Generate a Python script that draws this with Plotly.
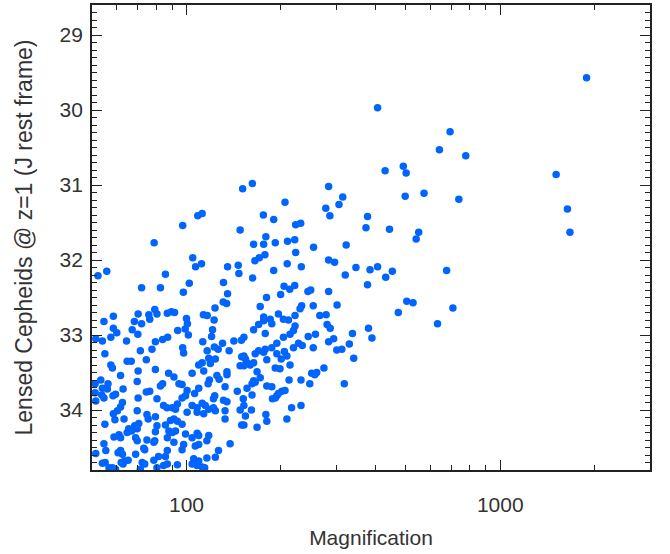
import numpy as np
import plotly.graph_objects as go

# log10(magnification) and J-band apparent magnitude (z=1 rest frame)
log10_magnification = [
    2.020, 2.029, 2.048, 1.718, 1.746, 1.933, 2.009, 2.131, 2.165, 2.167, 1.857, 1.917, 1.990, 2.118, 2.131, 2.117,
    2.128, 1.899, 1.906, 1.880, 1.883, 1.846, 1.939, 1.952, 1.962, 2.054, 2.066, 2.091, 2.088, 1.767, 1.737, 1.834,
    1.857, 2.000, 2.003, 1.996, 2.006, 1.767, 1.778, 1.827, 1.845, 1.972, 1.759, 1.711, 1.732, 1.809, 1.901, 1.924,
    1.940, 2.083, 2.080, 2.052, 2.115, 2.089, 2.101, 2.151, 2.175, 1.988, 1.991, 1.853, 1.890, 2.066, 2.136, 1.740,
    # faint left cluster
    1.759, 1.764, 1.811, 1.824, 1.872, 1.846, 1.901, 1.943, 1.790, 1.727, 1.750, 1.843, 1.709, 1.732, 1.748, 1.798,
    1.917, 1.924, 1.709, 1.730, 1.774, 1.766, 1.872, 1.883, 1.711, 1.737, 1.846, 1.906, 1.927, 1.938, 1.796, 1.790,
    1.780, 1.767, 1.772, 1.843, 1.874, 1.878, 1.901, 1.801, 1.740, 1.848, 1.835, 1.843, 1.825, 1.811, 1.816, 1.906,
    1.901, 1.933, 1.769, 1.785, 1.790, 1.838, 1.843, 1.874, 1.896, 1.899, 1.737, 1.743, 1.711, 1.790, 1.796, 1.782,
    1.838, 1.864, 1.867, 1.911, 1.896, 1.933, 1.803, 1.814, 1.792, 1.798, 1.741, 1.732, 1.859, 1.867, 1.753, 1.764,
    1.774, 1.853, 1.906, 1.927,
    # around 100
    2.176, 2.039, 2.050, 2.071, 2.076, 2.092, 2.171, 1.960, 2.018, 2.055, 2.097, 2.104, 2.129, 2.129, 2.073, 2.069,
    1.976, 1.986, 2.039, 2.123, 2.002, 1.997, 1.986, 2.026, 2.090, 2.086, 2.162, 2.118, 2.129, 2.181, 1.971, 1.965,
    1.955, 2.018, 2.034, 2.050, 2.060, 2.071, 2.086, 2.092, 2.055, 2.034, 2.002, 2.123, 2.123, 2.171, 2.176, 1.949,
    1.960, 1.971, 1.986, 1.944, 1.955, 1.965, 1.997, 2.018, 2.034, 2.039, 2.071, 2.065, 1.939, 1.960, 1.991, 2.028,
    2.039, 2.139, 1.939, 1.986, 2.102, 2.092, 2.065, 2.023, 2.039, 2.018, 2.034, 2.050, 1.971, 1.939, 2.058,
    # 150-270
    2.235, 2.367, 2.362, 2.404, 2.425, 2.346, 2.293, 2.309, 2.325, 2.246, 2.246, 2.267, 2.272, 2.230, 2.214, 2.346,
    2.341, 2.330, 2.251, 2.183, 2.309, 2.288, 2.388, 2.411, 2.357, 2.369, 2.341, 2.404, 2.272, 2.251, 2.246, 2.230,
    2.219, 2.288, 2.312, 2.320, 2.302, 2.183, 2.188, 2.193, 2.183, 2.203, 2.214, 2.256, 2.330, 2.283, 2.298, 2.225,
    2.235, 2.399, 2.409, 2.415, 2.214, 2.219, 2.209, 2.327, 2.365, 2.393, 2.193, 2.256, 2.272, 2.314, 2.304, 2.293,
    2.288, 2.283, 2.274, 2.209, 2.335, 2.365, 2.183, 2.207, 2.188, 2.253, 2.320, 2.256, 2.183, 2.225,
    2.218, 2.232, 2.250, 2.348, 2.321, 2.366, 2.278, 2.211, 2.311, 2.329, 2.345, 2.300, 2.387, 2.396, 2.255,
    # 270-550
    2.453, 2.472, 2.506, 2.540, 2.585, 2.609, 2.635, 2.656, 2.577, 2.453, 2.480, 2.445, 2.702, 2.722, 2.675, 2.448,
    2.458, 2.529, 2.580, 2.591, 2.453, 2.469, 2.479, 2.495, 2.519, 2.533, 2.438, 2.503,
    # bright / high magnification
    3.275, 2.840, 2.806, 2.890, 2.691, 2.700, 3.178, 2.697, 2.757, 2.868, 3.214, 3.222, 2.740, 2.732, 2.829, 2.849,
    2.800,
    2.609, 2.633, 2.210, 2.179, 2.453, 2.498, 2.486, 2.444, 2.457, 2.314, 2.245, 2.278, 2.348, 2.364, 2.577, 2.572,
    2.647, 2.171, 2.253, 2.214, 2.246, 2.283, 2.322, 2.345, 2.405, 2.509,
    2.050, 2.036, 1.988, 1.897,
]

J_magnitude = [
    31.97, 32.09, 32.05, 32.21, 32.15, 32.19, 32.31, 32.09, 32.07, 32.18, 32.37, 32.37, 32.43, 32.30, 32.45, 32.56,
    32.58, 32.66, 32.72, 32.73, 32.79, 32.72, 32.71, 32.69, 32.70, 32.73, 32.74, 32.64, 32.80, 32.75, 32.82, 32.82,
    32.85, 32.78, 32.85, 32.92, 33.00, 32.91, 32.97, 32.93, 32.99, 32.94, 33.03, 33.05, 33.08, 33.08, 33.09, 33.06,
    33.03, 32.93, 33.02, 33.09, 33.11, 33.16, 33.19, 33.08, 33.07, 33.17, 33.24, 33.21, 33.19, 33.21, 33.21, 33.25,
    # faint left cluster
    33.40, 33.44, 33.35, 33.35, 33.33, 33.48, 33.46, 33.51, 33.54, 33.60, 33.65, 33.62, 33.65, 33.71, 33.72, 33.72,
    33.68, 33.65, 33.77, 33.80, 33.79, 33.81, 33.76, 33.75, 33.88, 33.84, 33.84, 33.85, 33.94, 33.97, 33.90, 33.96,
    34.01, 34.05, 34.13, 34.01, 34.06, 34.12, 34.09, 34.12, 34.19, 34.18, 34.21, 34.25, 34.28, 34.30, 34.25, 34.21,
    34.29, 34.20, 34.36, 34.33, 34.37, 34.37, 34.41, 34.40, 34.43, 34.41, 34.45, 34.54, 34.58, 34.54, 34.59, 34.57,
    34.59, 34.51, 34.53, 34.62, 34.67, 34.62, 34.68, 34.67, 34.70, 34.72, 34.70, 34.71, 34.70, 34.72, 34.77, 34.77,
    34.79, 34.79, 34.77, 34.74,
    # around 100
    33.29, 33.40, 33.37, 33.31, 33.38, 33.32, 33.41, 33.56, 33.51, 33.48, 33.54, 33.59, 33.49, 33.53, 33.60, 33.65,
    33.65, 33.66, 33.71, 33.69, 33.74, 33.81, 33.84, 33.78, 33.81, 33.85, 33.75, 33.87, 33.89, 33.85, 33.92, 33.99,
    33.97, 33.94, 33.97, 33.91, 33.94, 33.99, 33.97, 34.01, 34.05, 34.03, 34.03, 34.01, 34.12, 34.00, 34.20, 34.14,
    34.12, 34.15, 34.19, 34.28, 34.30, 34.28, 34.32, 34.37, 34.31, 34.34, 34.34, 34.41, 34.37, 34.43, 34.46, 34.48,
    34.46, 34.45, 34.54, 34.53, 34.54, 34.63, 34.64, 34.65, 34.68, 34.72, 34.74, 34.76, 34.73, 34.72, 34.77,
    # 150-270
    32.62, 32.61, 32.65, 32.61, 32.74, 32.74, 32.72, 32.79, 32.80, 32.76, 32.81, 32.79, 32.85, 32.86, 32.93, 32.88,
    32.94, 32.99, 32.98, 33.03, 33.03, 33.11, 33.02, 32.99, 33.11, 33.14, 33.17, 33.17, 33.17, 33.19, 33.23, 33.21,
    33.25, 33.25, 33.22, 33.28, 33.32, 33.28, 33.32, 33.37, 33.41, 33.40, 33.37, 33.33, 33.40, 33.44, 33.45, 33.49,
    33.57, 33.51, 33.53, 33.50, 33.61, 33.63, 33.65, 33.60, 33.60, 33.65, 33.71, 33.68, 33.69, 33.74, 33.75, 33.78,
    33.81, 33.84, 33.85, 33.80, 33.97, 33.94, 33.94, 34.00, 34.08, 34.06, 34.12, 34.15, 34.20, 34.23,
    32.01, 31.97, 31.93, 31.90, 32.05, 32.09, 32.14, 32.24, 32.35, 32.39, 32.34, 32.46, 32.42, 32.40, 32.50,
    # 270-550
    32.00, 32.03, 32.20, 32.10, 32.13, 32.09, 32.23, 32.15, 32.33, 32.42, 32.60, 32.73, 32.55, 32.57, 32.70, 32.86,
    32.91, 32.98, 32.91, 33.04, 33.09, 33.05, 33.20, 33.19, 33.12, 33.31, 33.44, 33.65,
    # bright / high magnification
    29.57, 30.29, 30.53, 30.61, 30.75, 30.84, 30.86, 31.15, 31.11, 31.19, 31.32, 31.63, 31.63, 31.72, 32.14, 32.64,
    32.85,
    29.97, 30.81, 30.98, 31.05, 31.02, 31.16, 31.26, 31.31, 31.41, 31.23, 31.40, 31.46, 31.53, 31.51, 31.42, 31.57,
    31.59, 31.60, 31.69, 31.79, 31.79, 31.77, 31.75, 31.73, 31.83, 31.80,
    31.38, 31.41, 31.54, 31.77,
]

x_major_ticks = [100, 1000]
x_major_labels = ["100", "1000"]
x_minor_ticks = [60, 70, 80, 90, 200, 300, 400, 500, 600, 700, 800, 900, 2000, 3000]
x_range = [50, 3000]
y_range = [34.8, 28.6]

magnification = 10 ** np.array(log10_magnification)

FONT = "Liberation Sans, Arial, Helvetica, sans-serif"
TXT = "#333333"
AX = "#222222"

fig = go.Figure(
    go.Scatter(
        x=magnification,
        y=J_magnitude,
        mode="markers",
        marker=dict(color="#0064ff", size=7.5, line=dict(width=0)),
        cliponaxis=True,
        showlegend=False,
    )
)

fig.update_layout(
    width=670,
    height=554,
    margin=dict(l=92, r=20, t=5, b=84, autoexpand=False),
    paper_bgcolor="white",
    plot_bgcolor="white",
    font=dict(family=FONT, size=20, color=TXT),
)

fig.update_xaxes(
    type="log",
    range=[np.log10(x_range[0]), np.log10(x_range[1])],
    tickvals=x_major_ticks,
    ticktext=x_major_labels,
    ticks="inside",
    ticklen=10,
    tickwidth=1.2,
    tickcolor=AX,
    minor=dict(tickvals=x_minor_ticks, ticks="inside", ticklen=5, tickwidth=1.2, tickcolor=AX, showgrid=False),
    showline=True,
    linecolor=AX,
    linewidth=1.8,
    mirror="ticks",
    showgrid=False,
    zeroline=False,
    automargin=False,
    ticklabelstandoff=15,
    tickfont=dict(size=21, color=TXT, family=FONT),
    title=dict(text="Magnification", font=dict(size=21, color=TXT, family=FONT), standoff=15),
)

fig.update_yaxes(
    range=y_range,
    tick0=29,
    dtick=1,
    ticks="inside",
    ticklen=10,
    tickwidth=1.2,
    tickcolor=AX,
    minor=dict(dtick=0.1, tick0=29, ticks="inside", ticklen=5, tickwidth=1.2, tickcolor=AX, showgrid=False),
    showline=True,
    linecolor=AX,
    linewidth=1.8,
    mirror="ticks",
    showgrid=False,
    zeroline=False,
    automargin=False,
    ticklabelstandoff=3,
    tickfont=dict(size=21, color=TXT, family=FONT),
    title=dict(text="Lensed Cepheids @ z=1 (J rest frame)", font=dict(size=23, color=TXT, family=FONT), standoff=20),
)

fig.write_html(
    "out.html",
    config={"displayModeBar": False},
    post_script="document.body.style.margin='0';document.body.style.padding='0';",
)
